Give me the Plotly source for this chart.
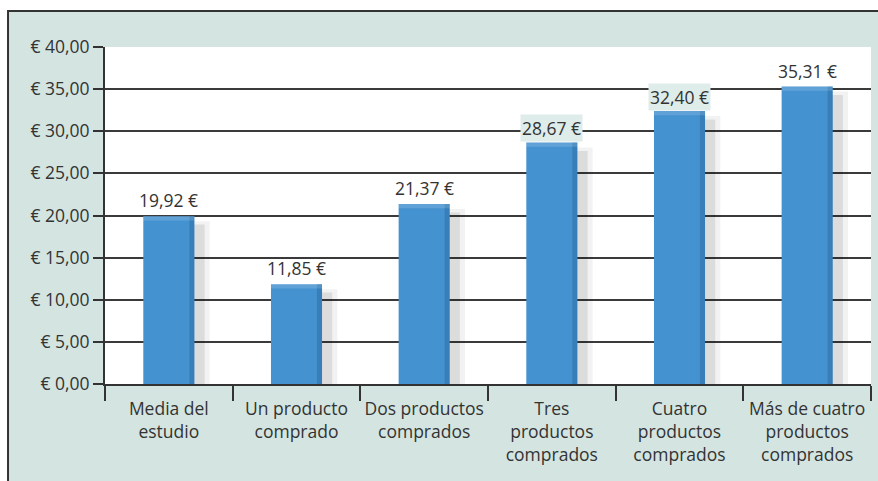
import plotly.graph_objects as go

categories = ["Media del<br>estudio", "Un producto<br>comprado", "Dos productos<br>comprados",
              "Tres<br>productos<br>comprados", "Cuatro<br>productos<br>comprados",
              "Más de cuatro<br>productos<br>comprados"]
values = [19.92, 11.85, 21.37, 28.67, 32.40, 35.31]
boxed_labels = [3, 4]  # labels drawn with a light background box

FONT = "Open Sans"
TXT = "#333333"
GREEN = "#d4e5e1"
BLUE = "#4592d0"
FS = 17.5

fig = go.Figure()

# soft shadows
fig.add_bar(x=categories, y=[v - 0.6 for v in values], width=0.46, offset=-0.14,
            marker=dict(color="rgba(0,0,0,0.05)", line=dict(width=0)), hoverinfo="skip")
fig.add_bar(x=categories, y=[v - 1.0 for v in values], width=0.40, offset=-0.12,
            marker=dict(color="rgba(0,0,0,0.09)", line=dict(width=0)), hoverinfo="skip")
# main bars
fig.add_bar(x=categories, y=values, width=0.40, offset=-0.20,
            marker=dict(color=BLUE, line=dict(width=0)))
# darker right edge
fig.add_bar(x=categories, y=values, width=0.04, offset=0.16,
            marker=dict(color="rgba(20,70,120,0.25)", line=dict(width=0)), hoverinfo="skip")
# lighter top
fig.add_bar(x=categories, y=[0.5] * len(values), base=[v - 0.5 for v in values], width=0.40, offset=-0.20,
            marker=dict(color="rgba(255,255,255,0.15)", line=dict(width=0)), hoverinfo="skip")

for i, (c, v) in enumerate(zip(categories, values)):
    boxed = i in boxed_labels
    fig.add_annotation(x=c, y=v, xref="x", yref="y", yanchor="bottom", yshift=0 if boxed else 2,
                       text=f"{v:.2f}".replace(".", ",") + " €", showarrow=False,
                       font=dict(family=FONT, size=FS, color=TXT),
                       bgcolor="#deecea" if boxed else "rgba(0,0,0,0)",
                       borderpad=1)

fig.update_layout(
    width=878, height=481,
    margin=dict(l=105, r=7, t=47, b=97, autoexpand=False),
    paper_bgcolor="white",
    plot_bgcolor="rgba(0,0,0,0)",
    barmode="overlay",
    showlegend=False,
    separators=",.",
    font=dict(family=FONT, size=FS, color=TXT),
    shapes=[
        dict(type="rect", xref="paper", yref="paper", x0=-0.1266, x1=1.02, y0=-0.31, y1=1.1068,
             fillcolor=GREEN, line=dict(color="#333333", width=2), layer="below"),
        dict(type="rect", xref="paper", yref="paper", x0=0, x1=1, y0=0, y1=1,
             fillcolor="white", line=dict(width=0), layer="below"),
    ],
)

fig.update_yaxes(range=[0, 40], dtick=5, tickprefix="€ ", tickformat=".2f",
                 showgrid=True, gridcolor="#3a3a3a", gridwidth=1.5,
                 showline=True, linecolor="#333333", linewidth=2,
                 ticks="outside", ticklen=10, tickcolor="#333333", tickwidth=1.5,
                 zeroline=False, automargin=False, tickfont=dict(family=FONT, size=FS, color=TXT))
fig.update_xaxes(tickson="boundaries", ticks="outside", ticklen=15, tickcolor="#333333", tickwidth=1.5,
                 showline=True, linecolor="#333333", linewidth=2, showgrid=False,
                 tickangle=0, automargin=False, ticklabelstandoff=8,
                 tickfont=dict(family=FONT, size=FS, color=TXT))

fig.write_html("out.html")
